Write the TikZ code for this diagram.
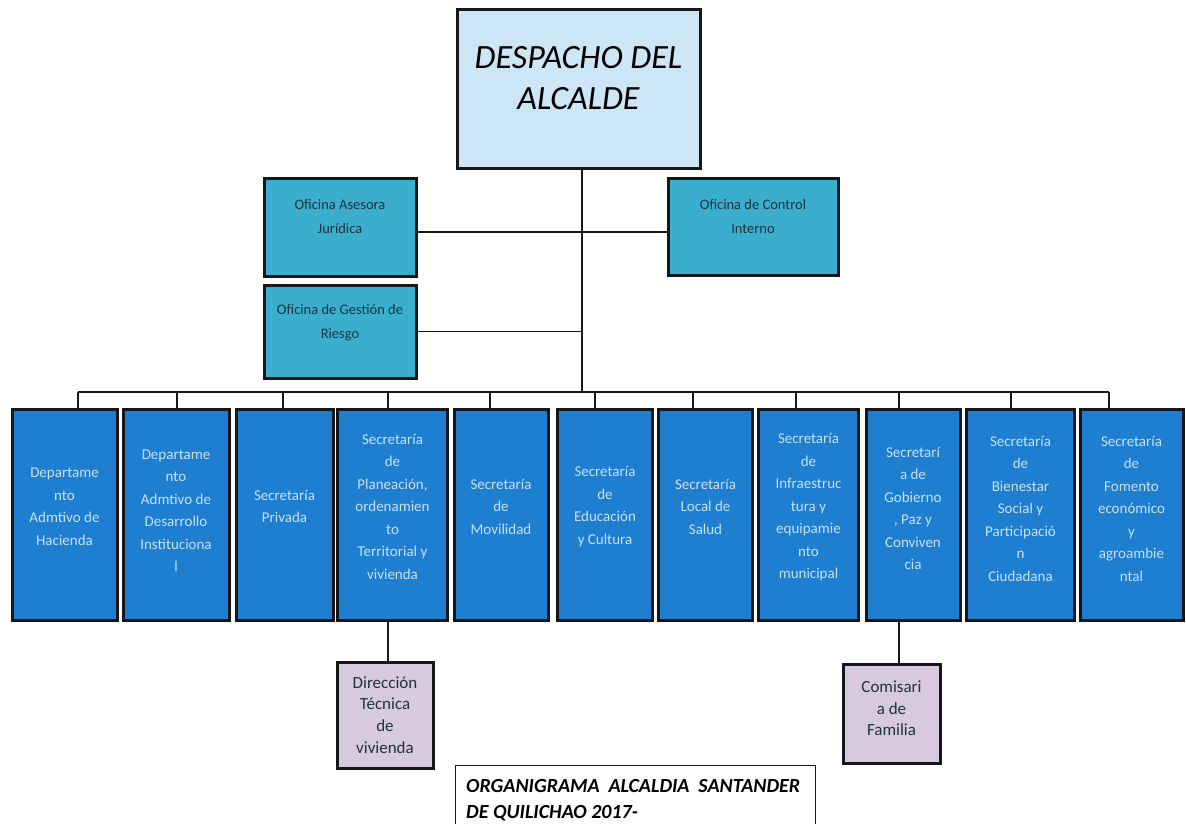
\documentclass[tikz,border=0pt]{standalone}
\usepackage{fontspec}
\setmainfont{Carlito}
\definecolor{topblue}{RGB}{204,230,246}
\definecolor{tealc}{RGB}{58,174,204}
\definecolor{bluec}{RGB}{30,126,208}
\definecolor{lavc}{RGB}{216,202,222}
\definecolor{btext}{RGB}{200,224,240}
\definecolor{ttext}{RGB}{28,52,62}
\definecolor{edge}{RGB}{22,22,24}
\begin{document}
\begin{tikzpicture}[x=1pt,y=-1pt,
  box/.style={draw=edge,line width=3pt,inner sep=0pt,outer sep=0pt},
  topbox/.style={box,fill=topblue},
  tealbox/.style={box,fill=tealc},
  bluebox/.style={box,fill=bluec,minimum height=211pt},
  lavbox/.style={box,fill=lavc},
  titlebox/.style={draw=edge,line width=1pt,fill=white,inner sep=0pt},
  toptext/.style={font=\fontsize{34}{41}\selectfont\itshape,align=center,text=black},
  tealtext/.style={font=\fontsize{14.5}{24}\selectfont,align=center,text=ttext},
  bluetext/.style={font=\fontsize{15}{22.5}\selectfont,align=center,text=btext},
  lavtext/.style={font=\fontsize{17}{21.7}\selectfont,align=center,text=ttext},
  titletext/.style={font=\fontsize{20}{26}\selectfont\bfseries\itshape,inner sep=0pt,anchor=base west},
  conn/.style={draw=black!90,line width=1.5pt}
]
\useasboundingbox (0,0) rectangle (1186,823);
\clip (0,0) rectangle (1186,823);
\fill[white] (0,0) rectangle (1186,823);

% top
\node[topbox,minimum width=243pt,minimum height=159pt] (top) at (578.5,88.5) {};
\node[toptext,yshift=10pt] (toptx) at (top) {DESPACHO DEL\\ALCALDE};

% offices
\node[tealbox,minimum width=152pt,minimum height=98pt] (ase) at (340,227) {};
\node[tealtext,yshift=10pt] (asetx) at (ase) {Oficina Asesora\\Jurídica};
\node[tealbox,minimum width=170pt,minimum height=97pt] (ctl) at (753,226.5) {};
\node[tealtext,yshift=10pt] (ctltx) at (ctl) {Oficina de Control\\Interno};
\node[tealbox,minimum width=152pt,minimum height=93pt] (ges) at (340,331.5) {};
\node[tealtext,yshift=9pt] (gestx) at (ges) {Oficina de Gestión de\\Riesgo};

% blue boxes
\node[bluebox,minimum width=105pt] (b1) at (64.5,514.5) {};
\node[bluebox,minimum width=106pt] (b2) at (176,514.5) {};
\node[bluebox,minimum width=97pt] (b3) at (284.5,514.5) {};
\node[bluebox,minimum width=110pt] (b4) at (392.5,514.5) {};
\node[bluebox,minimum width=94pt] (b5) at (501,514.5) {};
\node[bluebox,minimum width=95pt] (b6) at (605,514.5) {};
\node[bluebox,minimum width=94pt] (b7) at (705.5,514.5) {};
\node[bluebox,minimum width=100pt] (b8) at (808.5,514.5) {};
\node[bluebox,minimum width=94pt] (b9) at (913,514.5) {};
\node[bluebox,minimum width=108pt] (b10) at (1020.5,514.5) {};
\node[bluebox,minimum width=103pt] (b11) at (1131.5,514.5) {};

\node[bluetext,yshift=8pt] (t1) at (b1) {Departame\\nto\\Admtivo de\\Hacienda};
\node[bluetext,yshift=4pt] (t2) at (b2) {Departame\\nto\\Admtivo de\\Desarrollo\\Instituciona\\l};
\node[bluetext,yshift=8pt] (t3) at (b3) {Secretaría\\Privada};
\node[bluetext,yshift=8pt] (t4) at (b4) {Secretaría\\de\\Planeación,\\ordenamien\\to\\Territorial y\\vivienda};
\node[bluetext,yshift=8pt] (t5) at (b5) {Secretaría\\de\\Movilidad};
\node[bluetext,yshift=8pt] (t6) at (b6) {Secretaría\\de\\Educación\\y Cultura};
\node[bluetext,yshift=8pt] (t7) at (b7) {Secretaría\\Local de\\Salud};
\node[bluetext,yshift=7pt] (t8) at (b8) {Secretaría\\de\\Infraestruc\\tura y\\equipamie\\nto\\municipal};
\node[bluetext,yshift=6pt] (t9) at (b9) {Secretarí\\a de\\Gobierno\\, Paz y\\Conviven\\cia};
\node[bluetext,yshift=6pt] (t10) at (b10) {Secretaría\\de\\Bienestar\\Social y\\Participació\\n\\Ciudadana};
\node[bluetext,yshift=6pt] (t11) at (b11) {Secretaría\\de\\Fomento\\económico\\y\\agroambie\\ntal};

% sub boxes
\node[lavbox,minimum width=96pt,minimum height=106pt] (dir) at (385,715) {};
\node[lavtext] (dirtx) at (dir) {Dirección\\Técnica\\de\\vivienda};
\node[lavbox,minimum width=97pt,minimum height=99pt] (com) at (891.5,713.5) {};
\node[lavtext,yshift=5pt] (comtx) at (com) {Comisari\\a de\\Familia};

% title
\node[titlebox,minimum width=360pt,minimum height=70pt,anchor=north west] (tit) at (455,765) {};
\node[titletext] (tit1) at (466,792) {\hbox to 334pt{ORGANIGRAMA\hfill ALCALDIA\hfill SANTANDER}};
\node[titletext] (tit2) at (466,818) {DE QUILICHAO 2017-};

% connectors
\coordinate (trunk) at (582,0);
\coordinate (busl) at (78,392);
\coordinate (busr) at (1109,392);
\coordinate (x1) at (78,0);
\coordinate (x2) at (177,0);
\coordinate (x3) at (283,0);
\coordinate (x4) at (388,0);
\coordinate (x5) at (490,0);
\coordinate (x6) at (595,0);
\coordinate (x7) at (693,0);
\coordinate (x8) at (796,0);
\coordinate (x9) at (899,0);
\coordinate (x10) at (1011,0);
\coordinate (x11) at (1109,0);

\draw[conn] (top.south -| trunk) -- (busl -| trunk);
\draw[conn] (ase.east) ++(0,5) coordinate (ae) -- (ae -| ctl.west);
\draw[conn] (ges.east) -- (ges.east -| trunk);
\draw[conn] (busl) -- (busr);
\foreach \i in {1,...,11}{
  \draw[conn] (busl -| x\i) -- (b\i.north -| x\i);
}
\draw[conn] (b4.south -| x4) -- (dir.north -| x4);
\draw[conn] (b9.south -| x9) -- (com.north -| x9);
\end{tikzpicture}
\end{document}
